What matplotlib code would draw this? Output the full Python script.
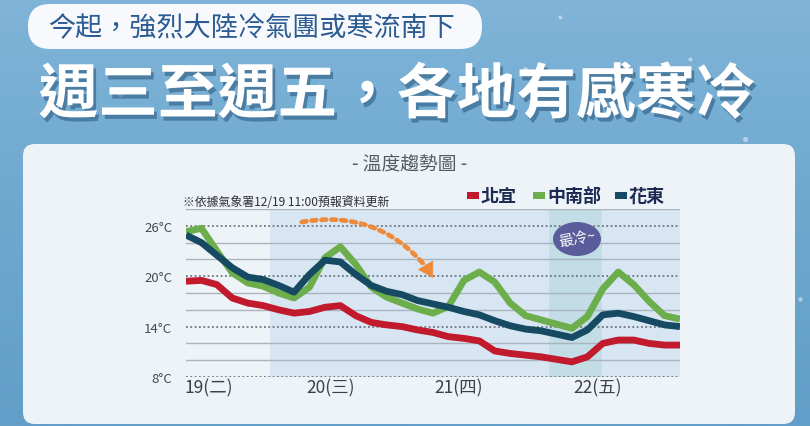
import numpy as np
import matplotlib
matplotlib.use('Agg')
import matplotlib.pyplot as plt
from matplotlib.patches import FancyBboxPatch, Ellipse, Rectangle
from matplotlib.colors import LinearSegmentedColormap
import matplotlib.patheffects as pe

plt.rcParams['font.family'] = ['Noto Sans CJK TC', 'DejaVu Sans']

# ---------------- data ----------------
hours = [0, 3, 6, 9, 12, 15, 18, 21, 24, 27, 30, 33, 36, 39, 42, 45, 48,
         51, 54, 57, 60, 63, 66, 69, 72, 75, 78, 81, 84, 87, 90, 93, 96]

north_yilan = [19.4, 19.5, 19.0, 17.4, 16.8, 16.5, 16.0, 15.6, 15.8, 16.3, 16.5,
               15.3, 14.5, 14.2, 14.0, 13.6, 13.3, 12.8, 12.6, 12.3, 11.1, 10.8,
               10.6, 10.4, 10.1, 9.8, 10.4, 12.0, 12.4, 12.4, 12.0, 11.8, 11.8]
central_south = [25.3, 25.7, 23.0, 20.4, 19.2, 18.8, 18.0, 17.4, 18.7, 22.2, 23.5,
                 21.4, 18.7, 17.5, 16.8, 16.1, 15.6, 16.4, 19.5, 20.5, 19.3, 16.8,
                 15.3, 14.8, 14.3, 13.8, 15.2, 18.5, 20.5, 19.0, 17.0, 15.3, 14.9]
hualien_taitung = [24.9, 24.0, 22.5, 21.0, 19.9, 19.6, 18.9, 18.1, 20.2, 21.9, 21.7,
                   20.2, 18.9, 18.2, 17.8, 17.1, 16.7, 16.3, 15.8, 15.4, 14.7, 14.1,
                   13.7, 13.5, 13.1, 12.7, 13.6, 15.4, 15.6, 15.2, 14.7, 14.2, 14.0]

series_names = ['北宜', '中南部', '花東']
series_colors = ['#c01a2c', '#6cae4c', '#164a62']

day_ticks = [4.5, 28.0, 52.9, 79.9]
day_labels = ['19(二)', '20(三)', '21(四)', '22(五)']
temp_ticks = [8, 14, 20, 26]
temp_labels = ['8°C', '14°C', '20°C', '26°C']
minor_grid = [10, 12, 16, 18, 22, 24, 28]

light_band = (16.3, 96.0)
cold_band = (70.5, 80.8)

# ---------------- figure ----------------
W, H = 810, 427
fig = plt.figure(figsize=(W / 100, H / 100), dpi=100)

bg = fig.add_axes([0, 0, 1, 1], zorder=0)
bg.set_xlim(0, W)
bg.set_ylim(H, 0)
bg.axis('off')
grad = np.linspace(0, 1, 256).reshape(-1, 1)
cmap = LinearSegmentedColormap.from_list('bg', ['#80b4d8', '#6ea8cf', '#639ec8'])
bg.imshow(grad, extent=[0, W, H, 0], aspect='auto', cmap=cmap, zorder=0)

# sparkles
for (sx, sy, ss) in [(120, 95, 18), (250, 185, 10), (525, 70, 12), (690, 60, 9),
                     (745, 140, 14), (38, 205, 14), (800, 300, 10), (560, 18, 8)]:
    bg.scatter([sx], [sy], s=ss, color='white', alpha=0.45, lw=0, zorder=1)

bg.add_patch(FancyBboxPatch((23, 145), 772, 280, boxstyle='round,pad=0,rounding_size=12',
                            fc='#eef3f8', ec='none', zorder=2))
bg.add_patch(FancyBboxPatch((28, 5), 454, 45, boxstyle='round,pad=0,rounding_size=22',
                            fc='#f7f9fc', ec='none', zorder=2))
bg.text(251, 27.5, '今起，強烈大陸冷氣團或寒流南下', fontsize=19.5, color='#2b5b93',
        ha='center', va='center', zorder=3)
bg.text(397, 97, '週三至週五，各地有感寒冷', fontsize=43, fontweight='bold', color='white',
        ha='center', va='center', zorder=3,
        path_effects=[pe.withSimplePatchShadow(offset=(2, -3), shadow_rgbFace='#1f4d74', alpha=0.5)])
bg.text(410, 165, '- 溫度趨勢圖 -', fontsize=13.5, color='#555a62', ha='center', va='center', zorder=3)
bg.text(183, 203, '※依據氣象署12/19 11:00預報資料更新', fontsize=8.6, color='#2e3138',
        ha='left', va='center', zorder=3, fontweight='medium')

# ---------------- plot ----------------
ax = fig.add_axes([186 / W, 1 - 378 / H, 494 / W, 168 / H], zorder=2)
ax.patch.set_alpha(0)
ax.set_xlim(0, 96)
ax.set_ylim(8, 28)
ax.axvspan(*light_band, color='#d8e6f3', lw=0, zorder=0)
ax.axvspan(*cold_band, color='#c3dde6', lw=0, zorder=0.5)
for t in minor_grid:
    ax.axhline(t, color='#a9b4bf', lw=1.0, zorder=1)
for t in temp_ticks:
    ax.axhline(t, color='#6d7580', lw=1.3, ls=(0, (1, 1.4)), zorder=1)

for vals, c in zip([north_yilan, central_south, hualien_taitung], series_colors):
    ax.plot(hours, vals, color=c, lw=4.9, solid_joinstyle='round', solid_capstyle='butt', zorder=3)

ax.set_yticks(temp_ticks)
ax.set_yticklabels(temp_labels, fontsize=9.5, color='#444a55')
ax.set_xticks(day_ticks)
ax.set_xticklabels(day_labels, fontsize=12.5, color='#3b4049')
ax.tick_params(axis='y', length=0, pad=10)
ax.tick_params(axis='x', length=0, pad=1)
for s in ax.spines.values():
    s.set_visible(False)

# orange trend arrow
orange = '#ef8a3a'
ax.annotate('', xy=(47.3, 20.6), xytext=(22.5, 26.45),
            arrowprops=dict(arrowstyle='-', connectionstyle='arc3,rad=-0.3', color=orange,
                            lw=3.4, linestyle=(0, (1, 1.1)), shrinkA=0, shrinkB=6),
            zorder=4)
ax.annotate('', xy=(48.0, 19.8), xytext=(46.0, 21.9),
            arrowprops=dict(arrowstyle='-|>,head_length=1.0,head_width=0.6', color=orange,
                            lw=0.5, shrinkA=0, shrinkB=0),
            zorder=4)

# ---------------- overlay (legend, badge) ----------------
ov = fig.add_axes([0, 0, 1, 1], zorder=3)
ov.set_xlim(0, W)
ov.set_ylim(H, 0)
ov.axis('off')
ov.patch.set_alpha(0)

legend_x = [467, 533, 615]
for name, c, lx in zip(series_names, series_colors, legend_x):
    ov.add_patch(Rectangle((lx, 193), 12, 7, fc=c, ec='none'))
    ov.text(lx + 14, 196.5, name, fontsize=13, fontweight='bold', color='#1d2b52',
            ha='left', va='center')

ov.add_patch(Ellipse((577, 240), 48, 34, fc='#5a5c9b', ec='none'))
ov.text(577, 240, '最冷~', fontsize=10.5, color='white', ha='center', va='center', rotation=12)

fig.savefig('out.png', dpi=100)
